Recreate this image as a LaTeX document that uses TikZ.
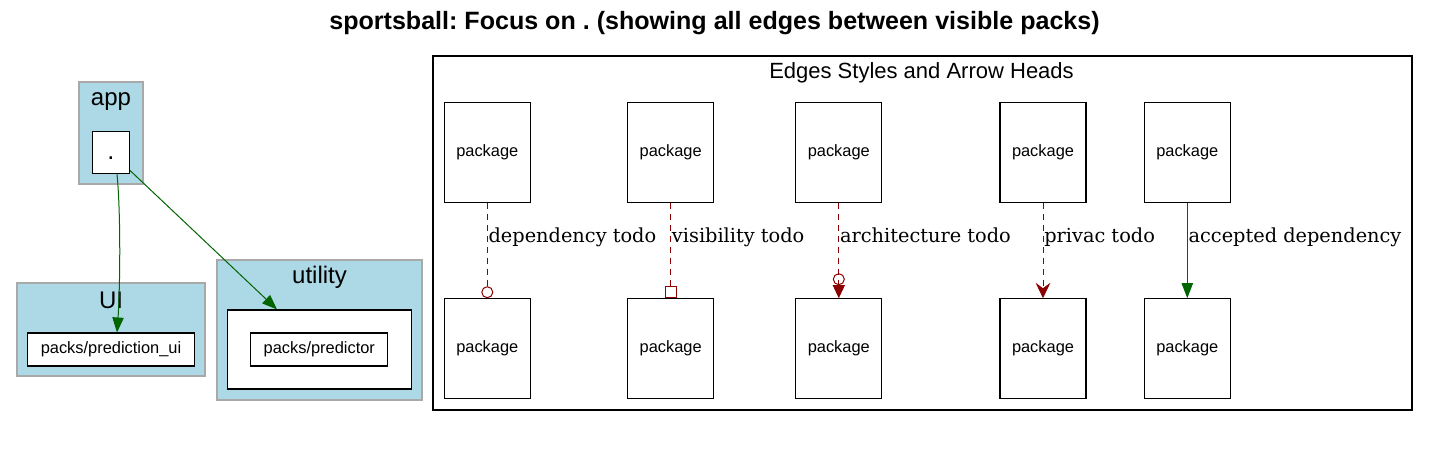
\documentclass[tikz,border=0pt]{standalone}
\usepackage{fontspec}
\newfontfamily\arial{Liberation Sans}
\newfontfamily\dvserif{DejaVu Serif}
\usetikzlibrary{arrows.meta}
\definecolor{clfill}{HTML}{ADD8E6}
\definecolor{clborder}{HTML}{A9A9A9}
\definecolor{dgreen}{HTML}{006400}
\definecolor{dred}{HTML}{8B0000}
\frenchspacing
\begin{document}
\begin{tikzpicture}[x=0.75pt,y=-0.75pt,
  box/.style={draw=black, line width=0.8pt, fill=white, inner sep=0pt, font=\arial\fontsize{12.3}{14}\selectfont},
  cluster/.style={draw=clborder, fill=clfill, line width=0.8pt, inner sep=0pt},
  pkg/.style={box, minimum width=86*0.75pt, minimum height=99.5*0.75pt},
  todo/.style={draw=dred, line width=0.75pt, dash pattern=on 4.5pt off 3.75pt},
  ok/.style={draw=dgreen, line width=0.75pt, -{Triangle[length=11.25pt,width=8.5pt]}},
  elabel/.style={anchor=base west, inner sep=0pt, font=\dvserif\fontsize{14.5}{17}\selectfont},
  cllabel/.style={anchor=base, inner sep=0pt, font=\arial\fontsize{18}{20}\selectfont}]

\useasboundingbox (0,0) rectangle (1429,456);
\fill[white] (0,0) rectangle (1429,456);

% title
\node[anchor=base, inner sep=0pt, font=\arial\bfseries\fontsize{18.8}{22}\selectfont] (title) at (714.5,30) {sportsball: Focus on . (showing all edges between visible packs)};

% clusters
\node[cluster, minimum width=64*0.75pt, minimum height=102*0.75pt] (appcl) at (111,133) {};
\node[cllabel] (applbl) at (111,106) {app};
\node[box, minimum width=37*0.75pt, minimum height=42*0.75pt, text height=11.25pt, text depth=0pt, font=\arial\fontsize{19}{20}\selectfont] (dot) at (111,152.5) {.};

\node[cluster, minimum width=188*0.75pt, minimum height=93*0.75pt] (uicl) at (111,329.5) {};
\node[cllabel] (uilbl) at (111,308.3) {UI};
\node[box, minimum width=167*0.75pt, minimum height=33*0.75pt] (pui) at (111,349.5) {packs/prediction\_ui};

\node[cluster, minimum width=205*0.75pt, minimum height=140*0.75pt] (utcl) at (319.5,330) {};
\node[cllabel] (utlbl) at (319.5,283.3) {utility};
\node[box, minimum width=184*0.75pt, minimum height=79*0.75pt] (uin) at (319.3,349.5) {};
\node[box, minimum width=137*0.75pt, minimum height=33*0.75pt] (pred) at (319.3,349.5) {packs/predictor};

% cluster edges
\draw[ok] ([xshift=4.5pt]dot.south) .. controls (121,215) and (120,290) .. ([xshift=4.5pt]pui.north);
\draw[ok] (dot) -- (uin);

% legend
\node[draw=black, line width=0.8pt, minimum width=979*0.75pt, minimum height=354*0.75pt, inner sep=0pt] (legend) at (922.5,233) {};
\node[anchor=base, inner sep=0pt, font=\arial\fontsize{16.5}{19}\selectfont] (legendlbl) at (921.5,78.7) {Edges Styles and Arrow Heads};

\foreach \i/\x in {1/487.3,2/670.7,3/838.8,4/1043,5/1187.3}{
  \node[pkg] (t\i) at (\x,152.3) {package};
  \node[pkg] (b\i) at (\x,348.5) {package};
}

\draw[todo, -{Circle[open,length=9pt,width=9pt]}] (t1) -- (b1);
\draw[todo, -{Square[open,length=9pt,width=9pt]}] (t2) -- (b2);
\draw[todo, -{Circle[open,length=9pt,width=9pt] Triangle[length=9.75pt,width=9pt]}] (t3) -- (b3);
\draw[todo, -{Stealth[length=11.5pt,width=11pt,inset=4pt]}] (t4) -- (b4);
\draw[ok] (t5) -- (b5);

\node[elabel] (l1) at (488.3,242.7) {dependency todo};
\node[elabel] (l2) at (671.7,242.7) {visibility todo};
\node[elabel] (l3) at (839.8,242.7) {architecture todo};
\node[elabel] (l4) at (1044,242.7) {privac todo};
\node[elabel] (l5) at (1188.3,242.7) {accepted dependency};
\end{tikzpicture}
\end{document}
